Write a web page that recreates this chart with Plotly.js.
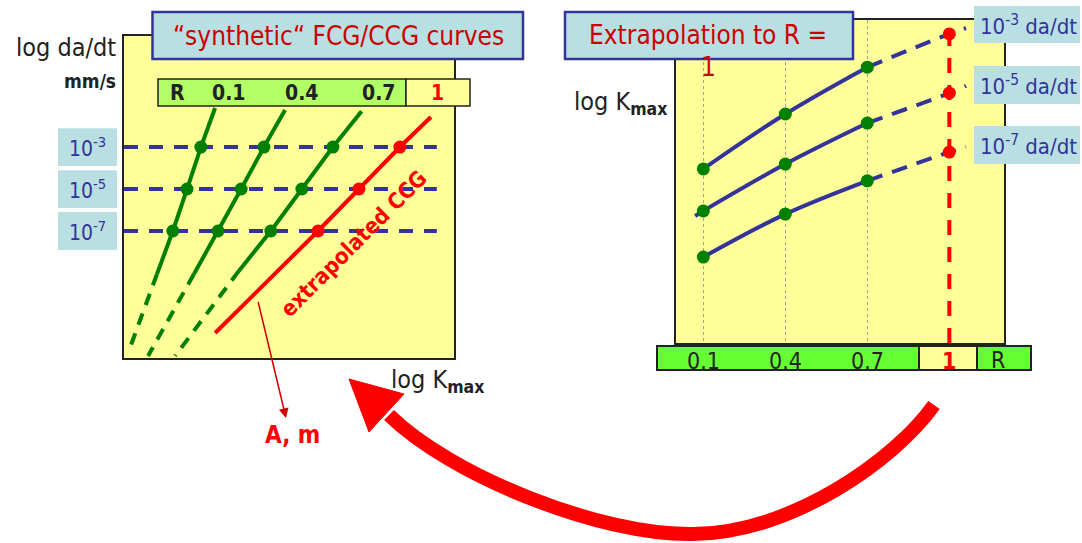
<!DOCTYPE html>
<html>
<head>
<meta charset="utf-8">
<script src="https://cdn.plot.ly/plotly-3.0.1.min.js"></script>
<style>html,body{margin:0;padding:0;background:#fff;}#chart{width:1082px;height:543px;}</style>
</head>
<body>
<div id="chart"></div>
<script>
// ---------------- DATA ----------------
// Load ratios R (curve families) and their labels
const R_VALUES = [0.1, 0.4, 0.7, 1];
const R_LABELS = ['0.1', '0.4', '0.7', '1'];
// Crack growth rate levels (log10 da/dt, mm/s) and their labels
const RATE_EXP = [-3, -5, -7];
const RATE_LABELS = ['10<sup>-3</sup>', '10<sup>-5</sup>', '10<sup>-7</sup>'];
const RATE_CURVE_LABELS = ['10<sup>-3</sup> da/dt', '10<sup>-5</sup> da/dt', '10<sup>-7</sup> da/dt'];

// Left panel: log Kmax (schematic units) where each R curve crosses the rate levels -3, -5, -7
const logK_R01 = [2.33, 1.91, 1.48];
const logK_R04 = [4.24, 3.55, 2.85];
const logK_R07 = [6.33, 5.39, 4.45];
const logK_R1  = [8.36, 7.12, 5.88];   // extrapolated CCG (R = 1)
// Ends of each curve (R = 0.1, 0.4, 0.7, 1): upper end, end of solid part, end of dashed part
const topK        = [2.76, 4.88, 7.20, 9.30];
const topRate     = [-1.14, -1.24, -1.29, -1.57];
const solidEndK   = [1.00, 2.12, 3.48, 2.76];
const solidEndRate= [-9.05, -9.05, -8.90, -11.86];
const dashEndK    = [0.18, 0.73, 1.55];
const dashEndRate = [-12.57, -12.95, -12.95];
// Extent of the constant-rate dashed lines (log Kmax)
const rateLineK = [0, 9.48];

// Right panel: log Kmax (schematic units) vs R for each rate level
const kmax_e3 = [5.39, 7.09, 8.54, 9.57];
const kmax_e5 = [4.09, 5.54, 6.81, 7.74];
const kmax_e7 = [2.66, 3.99, 5.02, 5.91];
const extR = 1.061;                 // end of dashed extrapolation
const extK = [9.75, 7.96, 6.07];
const stubR = 0.07, stubK_e5 = 3.93; // short dashed lead-in on the middle curve

// ---------------- STYLE ----------------
const W = 1082, H = 543;
const X = v => v / W;
const Y = v => 1 - v / H;
const FONT = 'DejaVu Sans Condensed, DejaVu Sans, sans-serif';
const GREEN = '#008000', RED = '#ff0000', BLUE = '#333399', DARK = '#222222';
const TITLE_RED = '#cc0000', LIGHTBLUE = '#badfe3', YELLOW = '#ffff99';

const traces = [];
// Left: constant-rate dashed lines
RATE_EXP.forEach(r => traces.push({
  x: rateLineK, y: [r, r], xaxis: 'x', yaxis: 'y', mode: 'lines',
  line: {color: BLUE, width: 4, dash: '14px,11px'}, hoverinfo: 'skip'
}));
// Left: R = 0.1, 0.4, 0.7 curves (solid + dashed extension)
const leftK = [logK_R01, logK_R04, logK_R07, logK_R1];
for (let i = 0; i < 3; i++) {
  traces.push({
    x: [topK[i], ...leftK[i], solidEndK[i]], y: [topRate[i], ...RATE_EXP, solidEndRate[i]],
    xaxis: 'x', yaxis: 'y', mode: 'lines', line: {color: GREEN, width: 4}, hoverinfo: 'skip'
  });
  traces.push({
    x: [solidEndK[i], dashEndK[i]], y: [solidEndRate[i], dashEndRate[i]],
    xaxis: 'x', yaxis: 'y', mode: 'lines', line: {color: GREEN, width: 4, dash: '12px,9px'}, hoverinfo: 'skip'
  });
}
// Left: extrapolated CCG (R = 1)
traces.push({
  x: [topK[3], ...logK_R1, solidEndK[3]], y: [topRate[3], ...RATE_EXP, solidEndRate[3]],
  xaxis: 'x', yaxis: 'y', mode: 'lines', line: {color: RED, width: 4}, hoverinfo: 'skip'
});
// Left markers
traces.push({
  x: [...logK_R01, ...logK_R04, ...logK_R07], y: [...RATE_EXP, ...RATE_EXP, ...RATE_EXP],
  xaxis: 'x', yaxis: 'y', mode: 'markers', marker: {color: GREEN, size: 13}, hoverinfo: 'skip'
});
traces.push({
  x: logK_R1, y: RATE_EXP, xaxis: 'x', yaxis: 'y', mode: 'markers',
  marker: {color: RED, size: 13}, hoverinfo: 'skip'
});

// Right: red dashed line at R = 1
traces.push({
  x: [R_VALUES[3], R_VALUES[3]], y: [0, 10], xaxis: 'x2', yaxis: 'y2', mode: 'lines',
  line: {color: RED, width: 4, dash: '15px,12px'}, hoverinfo: 'skip'
});
const rightK = [kmax_e3, kmax_e5, kmax_e7];
rightK.forEach((k, i) => {
  traces.push({
    x: R_VALUES.slice(0, 3), y: k.slice(0, 3), xaxis: 'x2', yaxis: 'y2', mode: 'lines',
    line: {color: BLUE, width: 4, shape: 'spline'}, hoverinfo: 'skip'
  });
  traces.push({
    x: [R_VALUES[2], R_VALUES[3], extR], y: [k[2], k[3], extK[i]], xaxis: 'x2', yaxis: 'y2', mode: 'lines',
    line: {color: BLUE, width: 4, dash: '16px,10px', shape: 'spline'}, hoverinfo: 'skip'
  });
});
traces.push({
  x: [stubR, R_VALUES[0]], y: [stubK_e5, kmax_e5[0]], xaxis: 'x2', yaxis: 'y2', mode: 'lines',
  line: {color: BLUE, width: 4, dash: '6px,4px'}, hoverinfo: 'skip'
});
traces.push({
  x: [...R_VALUES.slice(0, 3), ...R_VALUES.slice(0, 3), ...R_VALUES.slice(0, 3)],
  y: [...kmax_e3.slice(0, 3), ...kmax_e5.slice(0, 3), ...kmax_e7.slice(0, 3)],
  xaxis: 'x2', yaxis: 'y2', mode: 'markers', marker: {color: GREEN, size: 13}, hoverinfo: 'skip'
});
traces.push({
  x: [R_VALUES[3], R_VALUES[3], R_VALUES[3]], y: [kmax_e3[3], kmax_e5[3], kmax_e7[3]],
  xaxis: 'x2', yaxis: 'y2', mode: 'markers', marker: {color: RED, size: 13}, hoverinfo: 'skip'
});

// ---------------- SHAPES ----------------
const rect = (x0, y0, x1, y1, fill, lc, lw) => ({
  type: 'rect', xref: 'paper', yref: 'paper', x0: X(x0), x1: X(x1), y0: Y(y1), y1: Y(y0),
  fillcolor: fill, line: {color: lc || fill, width: lw === undefined ? 0 : lw}, layer: 'above'
});
const P = (x, y) => `${X(x)},${Y(y)}`;
const shapes = [
  rect(152.5, 12, 523, 59, LIGHTBLUE, BLUE, 2.5),
  rect(158, 79, 406, 106, '#b3ff66', DARK, 1.5),
  rect(406, 79, 470, 106, YELLOW, DARK, 1.5),
  rect(565, 12, 853, 59, LIGHTBLUE, BLUE, 2.5),
  rect(974, 6, 1080, 43, LIGHTBLUE),
  rect(974, 66, 1080, 104, LIGHTBLUE),
  rect(974, 126, 1080, 164, LIGHTBLUE),
  rect(657, 346, 919, 370, '#66ff33', DARK, 2),
  rect(919, 346, 977, 370, YELLOW, DARK, 2),
  rect(977, 346, 1031, 370, '#66ff33', DARK, 2),
  // big curved arrow
  {type: 'path', xref: 'paper', yref: 'paper', layer: 'above',
   path: `M ${P(934, 405)} C ${P(895, 460)} ${P(790, 534)} ${P(693, 534)} C ${P(600, 536)} ${P(450, 475)} ${P(389, 415)}`,
   line: {color: RED, width: 14}, fillcolor: 'rgba(0,0,0,0)'},
  {type: 'path', xref: 'paper', yref: 'paper', layer: 'above',
   path: `M ${P(349, 379)} L ${P(404, 394)} L ${P(369, 432)} Z`,
   line: {color: RED, width: 1}, fillcolor: RED}
];
// rate label boxes tied to the rate levels
RATE_EXP.forEach(r => shapes.push({
  type: 'rect', xref: 'paper', yref: 'y', x0: X(58), x1: X(117), y0: r - 0.9, y1: r + 0.9,
  fillcolor: LIGHTBLUE, line: {width: 0}, layer: 'above'
}));

// ---------------- ANNOTATIONS ----------------
const txt = (x, y, text, size, color, extra) => Object.assign({
  xref: 'paper', yref: 'paper', x: X(x), y: Y(y), text: text, showarrow: false,
  xanchor: 'center', yanchor: 'middle', font: {family: FONT, size: size, color: color}
}, extra || {});
const annotations = [
  txt(338, 36, '“synthetic“ FCG/CCG curves', 26, TITLE_RED),
  txt(118, 47, 'log da/dt', 25, DARK, {xanchor: 'right'}),
  txt(118, 81, '<b>mm/s</b>', 19, DARK, {xanchor: 'right'}),
  txt(177, 93, '<b>R</b>', 21, DARK),
  txt(354, 244, '<b>extrapolated CCG</b>', 22, RED, {textangle: -45}),
  txt(292, 435, '<b>A, m</b>', 24, RED),
  txt(389, 381, 'log K<sub><b>max</b></sub>', 25, DARK, {xanchor: 'left'}),
  {xref: 'paper', yref: 'paper', x: X(286), y: Y(418), ax: 256.5 - 286, ay: 295 - 418,
   text: ' ', showarrow: true, arrowcolor: '#cc0000', arrowwidth: 1.5, arrowhead: 2, arrowsize: 1.3,
   font: {family: FONT, size: 10}},
  txt(708, 35, 'Extrapolation to R =', 26, TITLE_RED),
  txt(708, 67, '1', 26, TITLE_RED),
  txt(572, 103, 'log K<sub><b>max</b></sub>', 25, DARK, {xanchor: 'left'}),
  txt(998, 360, 'R', 23, DARK)
];
// left bar labels (R values)
const LEFT_BAR_X = [229, 301, 378, 437];
R_LABELS.forEach((lab, i) => annotations.push(
  txt(LEFT_BAR_X[i], 93, '<b>' + lab + '</b>', 21, i === 3 ? RED : DARK)));
// rate labels (left)
RATE_EXP.forEach((r, i) => annotations.push({
  xref: 'paper', yref: 'y', x: X(87.5), y: r, text: RATE_LABELS[i], showarrow: false,
  xanchor: 'center', yanchor: 'middle', font: {family: FONT, size: 21, color: BLUE}
}));
// right curve labels
const RIGHT_LABEL_Y = [24.5, 85, 145];
RATE_CURVE_LABELS.forEach((lab, i) => annotations.push(
  txt(978, RIGHT_LABEL_Y[i], lab, 22, BLUE, {xanchor: 'left'})));
// bottom bar labels on the R axis
R_LABELS.forEach((lab, i) => annotations.push({
  xref: 'x2', yref: 'paper', x: R_VALUES[i], y: Y(361), text: i === 3 ? '<b>' + lab + '</b>' : lab,
  showarrow: false, xanchor: 'center', yanchor: 'middle',
  font: {family: FONT, size: 23, color: i === 3 ? RED : DARK}
}));

const axBase = {showgrid: false, zeroline: false, showticklabels: false, ticks: '',
  showline: true, mirror: true, linecolor: DARK, linewidth: 2, fixedrange: true};
const layout = {
  width: W, height: H, margin: {l: 0, r: 0, t: 0, b: 0},
  paper_bgcolor: '#ffffff', plot_bgcolor: YELLOW, showlegend: false,
  font: {family: FONT},
  xaxis: Object.assign({}, axBase, {domain: [X(124), X(454)], range: [0, 10], anchor: 'y'}),
  yaxis: Object.assign({}, axBase, {domain: [Y(358), Y(36)], range: [-13.05, 2.29], anchor: 'x'}),
  xaxis2: Object.assign({}, axBase, {domain: [X(676), X(1004)], range: [0, 1.2], anchor: 'y2',
    showgrid: true, tickmode: 'array', tickvals: R_VALUES.slice(0, 3), gridcolor: '#a0a0a0',
    gridwidth: 1, griddash: '3px,3px'}),
  yaxis2: Object.assign({}, axBase, {domain: [Y(343), Y(20)], range: [0, 10], anchor: 'x2'}),
  shapes: shapes, annotations: annotations
};
Plotly.newPlot('chart', traces, layout, {staticPlot: true, displayModeBar: false});
</script>
</body>
</html>
